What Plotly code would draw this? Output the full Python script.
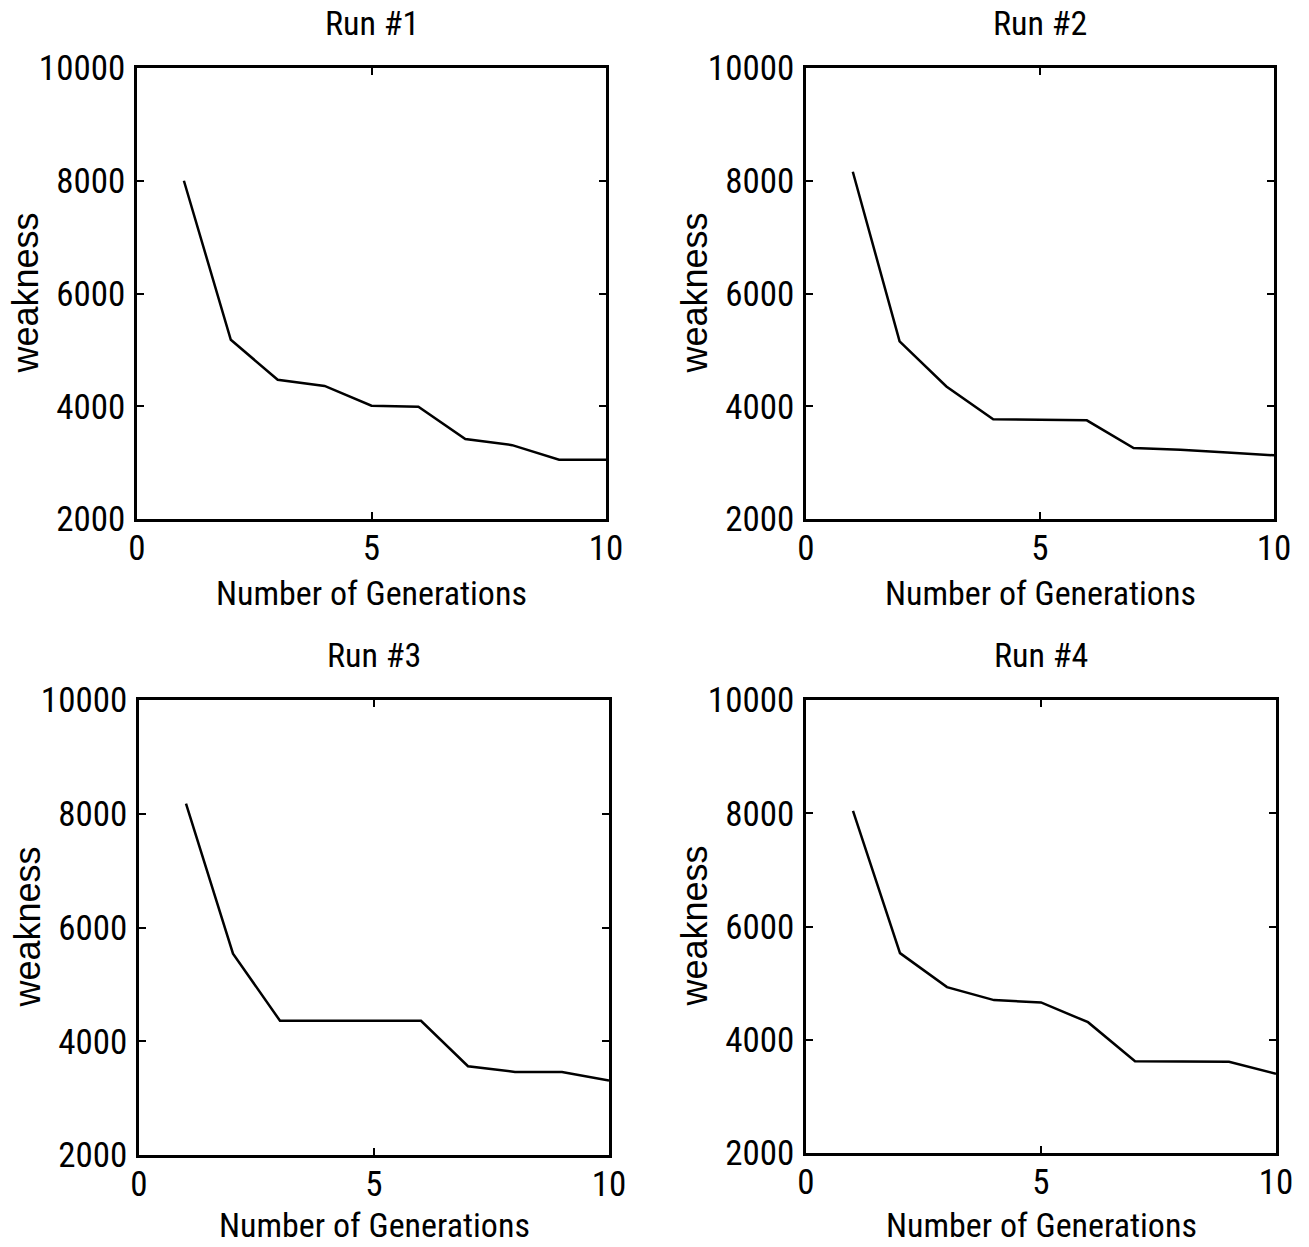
import plotly.graph_objects as go

W, H = 1309, 1247

generations = [1, 2, 3, 4, 5, 6, 7, 8, 9, 10]
run1 = [8000, 5180, 4470, 4360, 4010, 3990, 3420, 3310, 3050, 3050]
run2 = [8160, 5150, 4350, 3770, 3760, 3750, 3260, 3230, 3180, 3130]
run3 = [8180, 5540, 4360, 4360, 4360, 4360, 3560, 3460, 3460, 3310]
run4 = [8040, 5530, 4930, 4700, 4660, 4310, 3620, 3620, 3610, 3400]
titles = ["Run #1", "Run #2", "Run #3", "Run #4"]
x_ticks = [0, 5, 10]
y_ticks = [2000, 4000, 6000, 8000, 10000]
x_label = "Number of Generations"
y_label = "weakness"

# page-pixel boxes [x0, x1, y0(top), y1(bottom)]
boxes = [(137, 606, 68, 519), (806, 1274, 68, 519),
         (139, 609, 700, 1155), (806, 1276, 700, 1153)]
label_y = [593, 593, 1225, 1225]
series = [run1, run2, run3, run4]

NARROW = "Liberation Sans Narrow, Arial Narrow, Roboto Condensed, sans-serif"
REG = "Liberation Sans, Arial, Helvetica, sans-serif"


def px(v):
    return v / W


def py(v):
    return 1 - v / H


fig = go.Figure()
ann = []
for i, (b, ys) in enumerate(zip(boxes, series)):
    n = "" if i == 0 else str(i + 1)
    x0, x1, t, btm = b
    fig.add_trace(go.Scatter(x=generations, y=ys, mode="lines",
                             line=dict(color="black", width=2.5),
                             xaxis="x" + n, yaxis="y" + n, showlegend=False,
                             hoverinfo="skip"))
    common = dict(showline=True, linecolor="black", linewidth=2.5, mirror="ticks",
                  ticks="inside", ticklen=7, tickwidth=2, tickcolor="black",
                  showgrid=False, zeroline=False, automargin=False,
                  tickfont=dict(family=NARROW, size=35, color="black"))
    fig.update_layout(**{
        "xaxis" + n: dict(domain=[px(x0), px(x1)], range=[0, 10], tickvals=x_ticks,
                          anchor="y" + n, ticklabelstandoff=-4, **common),
        "yaxis" + n: dict(domain=[py(btm), py(t)], range=[2000, 10000],
                          tickvals=y_ticks, tickformat="d", anchor="x" + n,
                          ticklabelstandoff=2, **common),
    })
    cx = (x0 + x1) / 2
    cy = (t + btm) / 2
    ann.append(dict(text=titles[i], x=px(cx), y=py(t - 45), xref="paper", yref="paper",
                    showarrow=False, font=dict(family=NARROW, size=34, color="black"),
                    xanchor="center", yanchor="middle"))
    ann.append(dict(text=x_label, x=px(cx), y=py(label_y[i]), xref="paper", yref="paper",
                    showarrow=False, font=dict(family=NARROW, size=34, color="black"),
                    xanchor="center", yanchor="middle"))
    ann.append(dict(text=y_label, x=px(x0 - 112), y=py(cy), xref="paper", yref="paper",
                    showarrow=False, textangle=-90, font=dict(family=REG, size=36, color="black"),
                    xanchor="center", yanchor="middle"))

fig.update_layout(width=W, height=H, margin=dict(l=0, r=0, t=0, b=0),
                  paper_bgcolor="white", plot_bgcolor="white", annotations=ann,
                  hovermode=False)
fig.write_html("out.html", config={"displayModeBar": False},
               post_script="document.body.style.margin='0';document.body.style.overflow='hidden';")
